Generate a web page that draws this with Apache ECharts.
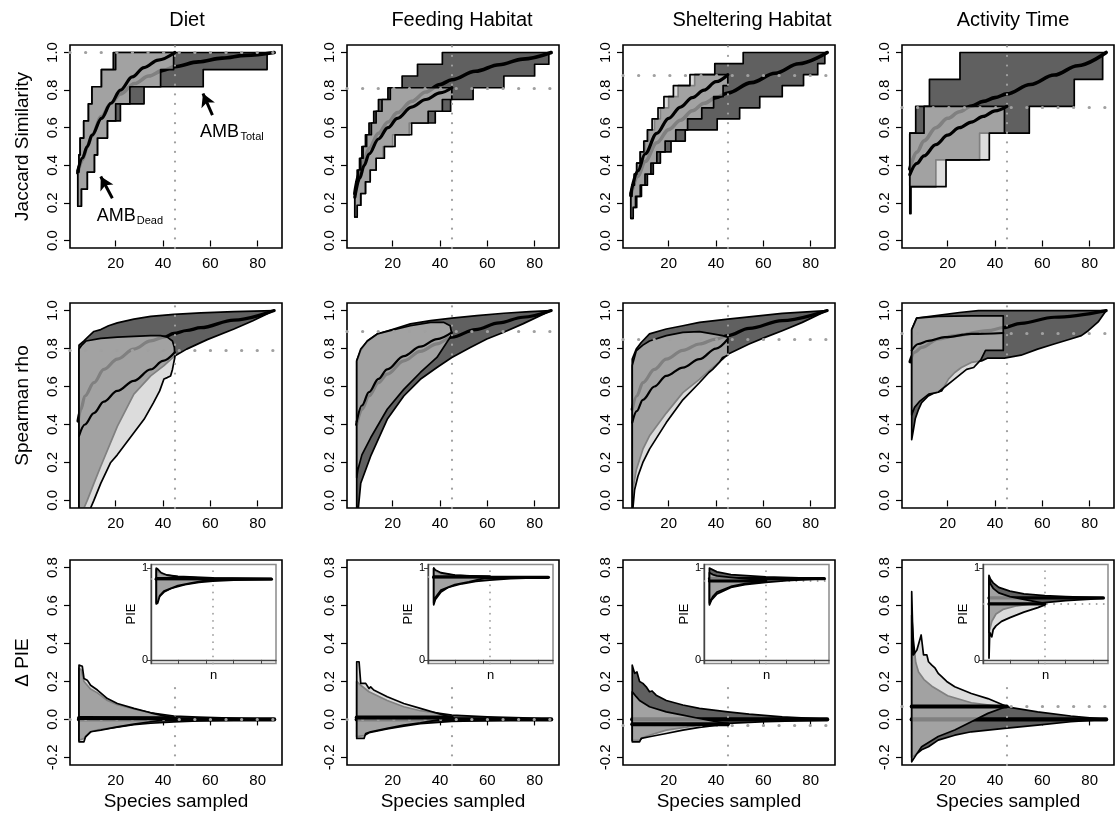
<!DOCTYPE html>
<html><head><meta charset="utf-8">
<script src="https://cdn.jsdelivr.net/npm/echarts@6/dist/echarts.min.js"></script>
<style>html,body{margin:0;padding:0;background:#fff}#c{width:1117px;height:819px}</style>
</head><body><div id="c"></div>
<script>
// ---------------- DATA ----------------
const colTitles = ['Diet', 'Feeding Habitat', 'Sheltering Habitat', 'Activity Time'];
const rowTitles = ['Jaccard Similarity', 'Spearman rho', '\u0394 PIE'];
const xTicks = [20, 40, 60, 80];
const yTicksTop = [0, 0.2, 0.4, 0.6, 0.8, 1.0];
const yTicksPie = [-0.2, 0, 0.2, 0.4, 0.6, 0.8];
const insetTicksY = [0, 1];
const deadSampleSize = 45;

// Row 1: Jaccard similarity (step bands)
const dietJacTotUp = [[4,0.364],[4.5,0.455],[5,0.545],[6.5,0.636],[8.5,0.727],[10,0.818],[14,0.909],[19,1],[87,1]];
const dietJacTotLo = [[4,0.182],[5.5,0.273],[8,0.364],[11,0.455],[12.3,0.545],[16.5,0.636],[22,0.727],[32,0.818],[57,0.909],[84,1],[87,1]];
const dietJacDeadUp = [[4,0.364],[4.5,0.455],[5,0.545],[6.5,0.636],[8.5,0.727],[10,0.818],[14,0.909],[20,1],[45,1]];
const dietJacDeadLo = [[4,0.182],[5.5,0.273],[8,0.364],[11,0.455],[12.3,0.545],[16.5,0.636],[20,0.727],[26,0.818],[39,0.909],[44.5,1],[45,1]];
const dietJacTotMean = [[4,0.36],[6,0.43],[8,0.5],[10,0.56],[14,0.66],[18,0.73],[22,0.78],[28,0.835],[34,0.875],[40,0.905],[45,0.925],[55,0.95],[65,0.97],[75,0.985],[87,1]];
const dietJacDeadMean = [[4,0.37],[6,0.44],[8,0.5],[10,0.56],[14,0.65],[18,0.73],[22,0.8],[27,0.87],[32,0.92],[38,0.96],[45,1]];

const feedJacTotUp = [[4,0.25],[4.5,0.3125],[5,0.375],[6,0.4375],[7,0.5],[8.5,0.5625],[10,0.625],[12,0.6875],[14,0.75],[18,0.8125],[24,0.875],[30.5,0.9375],[41,1],[87,1]];
const feedJacTotLo = [[4,0.125],[5,0.1875],[6.5,0.25],[8.5,0.3125],[10.5,0.375],[13,0.4375],[16,0.5],[20,0.5625],[27,0.625],[38,0.6875],[44.5,0.75],[54,0.8125],[67,0.875],[80,0.9375],[86,1],[87,1]];
const feedJacDeadUp = [[4,0.25],[4.5,0.3125],[5.5,0.375],[6.5,0.4375],[7.5,0.5],[9,0.5625],[11,0.625],[13,0.6875],[15.5,0.75],[19,0.8125],[45,0.8125]];
const feedJacDeadLo = [[4,0.125],[5,0.1875],[6.5,0.25],[8.5,0.3125],[10.5,0.375],[13,0.4375],[16.5,0.5],[21,0.5625],[28,0.625],[35,0.6875],[41,0.75],[45,0.8125]];
const feedJacTotMean = [[4,0.25],[6,0.36],[8,0.43],[10,0.49],[14,0.57],[18,0.63],[22,0.68],[28,0.74],[34,0.79],[40,0.83],[45,0.855],[55,0.9],[65,0.935],[75,0.965],[87,1]];
const feedJacDeadMean = [[4,0.23],[6,0.33],[8,0.4],[10,0.46],[14,0.54],[18,0.6],[22,0.65],[28,0.71],[34,0.75],[40,0.785],[45,0.8125]];

const shelJacTotUp = [[4,0.235],[4.5,0.294],[5.5,0.353],[6.5,0.412],[8,0.471],[10,0.529],[11.5,0.588],[14,0.647],[16.5,0.706],[20,0.765],[24,0.824],[31,0.882],[39.5,0.941],[51.5,1],[87,1]];
const shelJacTotLo = [[4,0.118],[5,0.176],[6.5,0.235],[8.5,0.294],[11,0.353],[13.5,0.412],[16.5,0.471],[21,0.529],[27,0.588],[40.5,0.647],[50,0.706],[58.5,0.765],[68,0.824],[77,0.882],[83,0.941],[86,1],[87,1]];
const shelJacDeadUp = [[4,0.235],[4.5,0.294],[5.5,0.353],[6.5,0.412],[8,0.471],[9.5,0.529],[11,0.588],[13,0.647],[15.5,0.706],[18,0.765],[22,0.824],[29,0.882],[45,0.882]];
const shelJacDeadLo = [[4,0.118],[5,0.176],[6,0.235],[8,0.294],[10,0.353],[12.5,0.412],[15,0.471],[18.5,0.529],[23,0.588],[28,0.647],[34,0.706],[39,0.765],[43,0.824],[45,0.882]];
const shelJacTotMean = [[4,0.24],[7,0.34],[10,0.42],[15,0.52],[20,0.59],[25,0.64],[30,0.69],[35,0.73],[40,0.76],[45,0.785],[55,0.84],[65,0.89],[75,0.94],[87,1]];
const shelJacDeadMean = [[4,0.25],[7,0.37],[10,0.46],[15,0.57],[20,0.65],[25,0.71],[30,0.76],[35,0.8],[40,0.845],[45,0.882]];

const actJacTotUp = [[4,0.571],[6.5,0.714],[12.3,0.857],[25.2,1],[87,1]];
const actJacTotLo = [[4,0.143],[4.5,0.286],[15,0.429],[33.5,0.571],[54.5,0.714],[73.5,0.857],[85.5,1],[87,1]];
const actJacDeadUp = [[4,0.571],[10,0.714],[45,0.714]];
const actJacDeadLo = [[4,0.286],[19.3,0.429],[37.6,0.571],[44,0.714],[45,0.714]];
const actJacTotMean = [[4,0.38],[7,0.47],[10,0.53],[15,0.6],[20,0.65],[25,0.685],[30,0.715],[35,0.74],[40,0.76],[45,0.78],[55,0.83],[65,0.88],[75,0.93],[87,1]];
const actJacDeadMean = [[4,0.35],[7,0.41],[10,0.45],[15,0.51],[20,0.56],[25,0.6],[30,0.63],[35,0.66],[40,0.69],[45,0.714]];

// Row 2: Spearman rho
const dietSpTotUp = [[4.5,0.818],[6.6,0.84],[9,0.87],[10.8,0.89],[13.7,0.9],[17,0.92],[20.7,0.935],[27.7,0.955],[34.8,0.97],[44.6,0.98],[56,0.988],[70,0.995],[87,1]];
const dietSpTotLo = [[4.5,-0.04],[6.6,-0.04],[8,0.0],[10.8,0.09],[13.7,0.18],[20.7,0.39],[27.7,0.56],[34.8,0.656],[40.4,0.71],[44.6,0.758],[50,0.797],[58.7,0.847],[70,0.903],[78,0.947],[87,1]];
const dietSpDeadUp = [[4.5,0.797],[5.5,0.815],[7.5,0.84],[13.7,0.854],[20.7,0.86],[27.7,0.864],[34.8,0.868],[39,0.868],[41.8,0.86],[44,0.84],[44.8,0.806],[45,0.76]];
const dietSpDeadLo = [[4.5,-0.04],[9.4,-0.04],[10.8,0.0],[13.7,0.09],[17.9,0.2],[20.7,0.24],[27.7,0.356],[32,0.427],[36,0.515],[38.6,0.577],[40.4,0.64],[41.8,0.647],[43.2,0.656],[44,0.69],[45,0.753]];
const dietSpTotMean = [[4.1,0.418],[5.3,0.48],[7,0.55],[10.8,0.62],[15,0.69],[20.7,0.744],[27.7,0.797],[34.8,0.84],[40.4,0.86],[44.6,0.88],[50,0.895],[56,0.91],[70,0.95],[87,1]];
const dietSpDeadMean = [[4.5,0.34],[7,0.4],[10.8,0.46],[15,0.52],[20.7,0.577],[27.7,0.63],[34.8,0.69],[40,0.735],[45,0.78]];

const feedSpTotUp = [[4.8,0.735],[6.5,0.79],[9.3,0.84],[13.5,0.877],[20.5,0.903],[27.5,0.93],[36,0.947],[45,0.96],[55.6,0.973],[67,0.986],[78,0.995],[87,1]];
const feedSpTotLo = [[4.8,-0.04],[5.5,-0.04],[6.5,0.09],[10.7,0.233],[17.7,0.427],[24.7,0.55],[31.7,0.638],[38.7,0.7],[45,0.753],[52.8,0.806],[59.8,0.85],[66.7,0.885],[75,0.93],[87,1]];
const feedSpDeadUp = [[4.8,0.735],[6.5,0.797],[9.3,0.84],[13.5,0.877],[20.5,0.9],[27.5,0.92],[36,0.938],[41.5,0.938],[44.3,0.92],[45,0.877]];
const feedSpDeadLo = [[4.8,0.12],[5.3,0.162],[7,0.24],[10.7,0.33],[17.7,0.48],[24.7,0.585],[31.7,0.674],[38.7,0.753],[44.3,0.86],[45,0.877]];
const feedSpTotMean = [[4.8,0.4],[7,0.48],[10,0.55],[14,0.62],[17.7,0.665],[24.7,0.735],[31.7,0.785],[38.7,0.825],[45,0.86],[55,0.9],[65,0.935],[75,0.965],[87,1]];
const feedSpDeadMean = [[4.8,0.415],[7,0.5],[10,0.57],[14,0.64],[17.7,0.69],[24.7,0.76],[31.7,0.81],[38.7,0.85],[45,0.885]];

const shelSpTotUp = [[4.6,0.744],[6.3,0.797],[8.4,0.832],[11.9,0.877],[19,0.903],[26,0.92],[33,0.938],[45,0.955],[56,0.97],[68,0.985],[87,1]];
const shelSpTotLo = [[4.6,-0.04],[4.9,0.06],[6.3,0.16],[9.1,0.27],[11.9,0.34],[19,0.46],[26,0.568],[33,0.638],[38.6,0.7],[42.8,0.744],[45,0.77],[54,0.824],[61,0.86],[68,0.894],[76.5,0.938],[87,1]];
const shelSpDeadUp = [[4.6,0.71],[6.3,0.788],[9.1,0.818],[11.9,0.84],[19,0.868],[26,0.885],[33,0.889],[38.6,0.877],[42.8,0.868],[45,0.86]];
const shelSpDeadLo = [[4.6,-0.04],[4.9,-0.04],[5.6,0.056],[7,0.127],[9.1,0.2],[11.9,0.27],[19,0.41],[26,0.53],[33,0.62],[37,0.674],[38.6,0.69],[41.4,0.727],[42.8,0.753],[45,0.765]];
const shelSpTotMean = [[4.6,0.48],[6.5,0.55],[9.1,0.62],[14,0.69],[19,0.744],[26,0.79],[33,0.824],[40,0.85],[45,0.868],[54,0.906],[68,0.947],[87,1]];
const shelSpDeadMean = [[4.6,0.41],[6.5,0.47],[9.1,0.53],[14,0.6],[19,0.656],[26,0.7],[33,0.744],[40,0.8],[45,0.85]];

const actSpTotUp = [[4.8,0.9],[6.9,0.96],[16,0.975],[25,0.99],[33,1],[87,1]];
const actSpTotLo = [[4.8,0.32],[5.5,0.37],[6.3,0.43],[7.7,0.48],[9,0.515],[11.8,0.55],[14.7,0.568],[17.5,0.577],[19,0.61],[20.4,0.64],[23,0.674],[25.8,0.7],[30,0.727],[34.3,0.735],[37,0.75],[44,0.75],[51,0.765],[58,0.797],[65,0.824],[72,0.85],[76.5,0.868],[79.4,0.894],[83.6,0.94],[87,1]];
const actSpDeadUp = [[4.8,0.9],[6.9,0.96],[16,0.97],[30,0.972],[43.5,0.972]];
const actSpDeadLo = [[4.8,0.45],[6,0.49],[8,0.52],[10,0.54],[12,0.56],[16,0.57],[19,0.6],[22,0.63],[25,0.66],[28,0.69],[31,0.7],[34,0.74],[36,0.79],[43.5,0.79]];
const actSpTotMean = [[4.1,0.73],[6,0.78],[9,0.806],[16,0.85],[23,0.868],[37,0.894],[43.5,0.91],[51,0.933],[65,0.965],[87,1]];
const actSpDeadMean = [[4.8,0.79],[7.6,0.824],[11.8,0.84],[18.8,0.86],[30,0.877],[43.5,0.882]];

// Row 3: Delta PIE
const dietPieTotUp = [[4.5,0.27],[5.5,0.26],[6.6,0.2],[8,0.18],[9.4,0.16],[12.3,0.14],[16.5,0.1],[20.7,0.078],[27.7,0.055],[34.8,0.035],[44.6,0.018],[55,0.012],[65,0.008],[75,0.004],[87,0]];
const dietPieTotLo = [[4.5,-0.11],[6.6,-0.1],[9.4,-0.065],[12.3,-0.055],[20.7,-0.04],[27.7,-0.028],[34.8,-0.02],[44.6,-0.013],[55,-0.008],[65,-0.005],[75,-0.003],[87,0]];
const dietPieDeadUp = [[4.5,0.286],[5.9,0.28],[6.6,0.216],[8,0.207],[9.4,0.18],[12.3,0.155],[16.5,0.11],[20.7,0.084],[27.7,0.058],[34.8,0.035],[45,0.006]];
const dietPieDeadLo = [[4.5,-0.118],[6.6,-0.118],[7.3,-0.09],[9.4,-0.065],[13.7,-0.056],[20.7,-0.039],[27.7,-0.025],[34.8,-0.012],[45,0.006]];
const dietPieTotMean = [[4.5,0],[87,0]];
const dietPieDeadMean = [[4.5,0.007],[45,0.006]];

const feedPieTotUp = [[4.8,0.2],[6.5,0.18],[10,0.146],[17.7,0.1],[24.7,0.067],[31.7,0.046],[45,0.023],[60,0.014],[75,0.008],[87,0]];
const feedPieTotLo = [[4.8,-0.09],[8,-0.085],[10,-0.07],[17.7,-0.05],[24.7,-0.035],[31.7,-0.022],[45,-0.01],[60,-0.006],[75,-0.003],[87,0]];
const feedPieDeadUp = [[4.8,0.304],[5.8,0.304],[6.5,0.19],[8.6,0.19],[10,0.163],[10.7,0.172],[12,0.155],[17.7,0.12],[24.7,0.084],[31.7,0.058],[45,0.01]];
const feedPieDeadLo = [[4.8,-0.1],[7.9,-0.1],[8.6,-0.074],[10.7,-0.065],[17.7,-0.047],[24.7,-0.03],[31.7,-0.018],[45,0.01]];
const feedPieTotMean = [[4.8,0],[87,0]];
const feedPieDeadMean = [[4.8,0.01],[45,0.01]];

const shelPieTotUp = [[4.6,0.286],[5.6,0.243],[6.6,0.25],[7.7,0.2],[9.1,0.19],[10.5,0.172],[11.9,0.146],[13,0.15],[14.7,0.128],[19,0.1],[26,0.076],[33,0.058],[45,0.04],[54,0.028],[68,0.014],[86,0.002],[87,0]];
const shelPieTotLo = [[4.6,-0.11],[7.7,-0.11],[9.1,-0.095],[11.9,-0.083],[19,-0.056],[33,-0.03],[45,-0.021],[61,-0.012],[86,-0.004],[87,0]];
const shelPieDeadUp = [[4.6,0.146],[6.3,0.12],[7.7,0.1],[11.9,0.067],[19,0.04],[26,0.023],[33,0.005],[45,-0.023]];
const shelPieDeadLo = [[4.6,-0.118],[7.7,-0.118],[8.4,-0.1],[11.9,-0.091],[19,-0.074],[26,-0.056],[33,-0.042],[45,-0.023]];
const shelPieTotMean = [[4.6,0],[87,0]];
const shelPieDeadMean = [[4.6,-0.025],[45,-0.025]];

const actPieTotUp = [[4.8,0.55],[5.5,0.42],[6.5,0.3],[7.7,0.25],[10,0.21],[13.3,0.175],[20,0.125],[30,0.088],[40,0.072],[45,0.066],[58,0.04],[72,0.018],[87,0]];
const actPieTotLo = [[4.8,-0.2],[7,-0.18],[9,-0.16],[11.9,-0.144],[16,-0.109],[23,-0.083],[30,-0.065],[44,-0.047],[58,-0.03],[72,-0.012],[87,0]];
const actPieDeadUp = [[4.8,0.673],[5.5,0.34],[7,0.366],[8.8,0.445],[9.8,0.34],[11.2,0.34],[11.9,0.304],[13.3,0.286],[14.7,0.27],[16,0.243],[17.5,0.225],[19.6,0.2],[23,0.172],[30,0.137],[37,0.11],[43.5,0.076],[45,0.067]];
const actPieDeadLo = [[4.8,-0.223],[7,-0.18],[9,-0.144],[16,-0.09],[23,-0.056],[30,-0.012],[37,0.032],[44,0.064],[45,0.067]];
const actPieTotMean = [[4.8,0],[87,0]];
const actPieDeadMean = [[4.8,0.068],[45,0.068]];

// Insets: PIE
const dietInTotUp = [[4.5,0.99],[6,0.96],[10,0.93],[20,0.91],[45,0.895],[87,0.885]];
const dietInTotLo = [[4.5,0.62],[6,0.68],[10,0.74],[15,0.78],[25,0.82],[35,0.845],[45,0.86],[60,0.87],[87,0.88]];
const dietInDeadUp = [[4.5,1.0],[5.5,0.99],[8,0.95],[12,0.925],[20,0.905],[45,0.885]];
const dietInDeadLo = [[4.5,0.61],[5.5,0.62],[7,0.7],[10,0.75],[20,0.81],[30,0.84],[45,0.88]];
const dietInTotMean = [[4.5,0.88],[87,0.88]];
const dietInDeadMean = [[4.5,0.885],[45,0.885]];

const feedInTotUp = [[4.8,1.0],[6,0.97],[10,0.94],[20,0.92],[45,0.905],[87,0.9]];
const feedInTotLo = [[4.8,0.6],[6,0.66],[10,0.74],[15,0.79],[25,0.83],[35,0.855],[45,0.87],[60,0.885],[87,0.9]];
const feedInDeadUp = [[4.8,1.0],[6,0.98],[10,0.95],[20,0.925],[45,0.905]];
const feedInDeadLo = [[4.8,0.62],[6,0.68],[10,0.76],[20,0.82],[30,0.85],[45,0.905]];
const feedInTotMean = [[4.8,0.9],[87,0.9]];
const feedInDeadMean = [[4.8,0.905],[45,0.905]];

const shelInTotUp = [[4.6,1.0],[6,0.99],[10,0.96],[20,0.93],[45,0.905],[87,0.885]];
const shelInTotLo = [[4.6,0.6],[6,0.65],[10,0.72],[20,0.79],[30,0.82],[45,0.845],[60,0.865],[87,0.885]];
const shelInDeadUp = [[4.6,0.95],[7,0.93],[10,0.915],[20,0.9],[45,0.865]];
const shelInDeadLo = [[4.6,0.62],[7,0.69],[10,0.74],[20,0.8],[30,0.83],[45,0.855]];
const shelInTotMean = [[4.6,0.885],[87,0.885]];
const shelInDeadMean = [[4.6,0.86],[45,0.86]];

const actInTotUp = [[5,0.92],[6,0.88],[8,0.84],[12,0.79],[20,0.75],[30,0.72],[45,0.7],[60,0.69],[87,0.675]];
const actInTotLo = [[5,0.3],[7,0.42],[10,0.5],[15,0.55],[25,0.59],[35,0.61],[45,0.625],[60,0.645],[75,0.66],[87,0.672]];
const actInDeadUp = [[5,0.9],[6,0.83],[8,0.78],[12,0.73],[20,0.69],[30,0.66],[40,0.63],[45,0.615]];
const actInDeadLo = [[5,0.02],[5.5,0.3],[7,0.25],[8,0.33],[10,0.37],[14,0.42],[20,0.46],[30,0.52],[40,0.57],[45,0.6]];
const actInTotMean = [[5,0.675],[87,0.675]];
const actInDeadMean = [[5,0.61],[45,0.61]];

// Observed (dead assemblage) reference values, dotted horizontal lines
const jacRef = [1.0, 0.8125, 0.882, 0.714];
const spRef = [0.794, 0.894, 0.855, 0.88];
const pieRef = [0, 0, -0.025, 0.07];
const insetRef = [0.885, 0.905, 0.86, 0.61];
const pieVertTop = 0.2;

// ---------------- LAYOUT / STYLE ----------------
const FONT = '"Liberation Sans", Arial, Helvetica, sans-serif';
const colLeft = [70, 347, 623, 902];
const colW = 212;
const rowTop = [45, 303, 560];
const rowH = [203, 205, 205];
const titleX = [187, 462, 752, 1013];
const DARK = '#606060';
const DEADFILL = 'rgba(200,200,200,0.64)';
const XMIN = 0.7, XMAX = 90.3;

const panels = [
  [
    {tu:dietJacTotUp, tl:dietJacTotLo, du:dietJacDeadUp, dl:dietJacDeadLo, tm:dietJacTotMean, dm:dietJacDeadMean},
    {tu:feedJacTotUp, tl:feedJacTotLo, du:feedJacDeadUp, dl:feedJacDeadLo, tm:feedJacTotMean, dm:feedJacDeadMean},
    {tu:shelJacTotUp, tl:shelJacTotLo, du:shelJacDeadUp, dl:shelJacDeadLo, tm:shelJacTotMean, dm:shelJacDeadMean},
    {tu:actJacTotUp, tl:actJacTotLo, du:actJacDeadUp, dl:actJacDeadLo, tm:actJacTotMean, dm:actJacDeadMean}
  ],
  [
    {tu:dietSpTotUp, tl:dietSpTotLo, du:dietSpDeadUp, dl:dietSpDeadLo, tm:dietSpTotMean, dm:dietSpDeadMean},
    {tu:feedSpTotUp, tl:feedSpTotLo, du:feedSpDeadUp, dl:feedSpDeadLo, tm:feedSpTotMean, dm:feedSpDeadMean},
    {tu:shelSpTotUp, tl:shelSpTotLo, du:shelSpDeadUp, dl:shelSpDeadLo, tm:shelSpTotMean, dm:shelSpDeadMean},
    {tu:actSpTotUp, tl:actSpTotLo, du:actSpDeadUp, dl:actSpDeadLo, tm:actSpTotMean, dm:actSpDeadMean}
  ],
  [
    {tu:dietPieTotUp, tl:dietPieTotLo, du:dietPieDeadUp, dl:dietPieDeadLo, tm:dietPieTotMean, dm:dietPieDeadMean},
    {tu:feedPieTotUp, tl:feedPieTotLo, du:feedPieDeadUp, dl:feedPieDeadLo, tm:feedPieTotMean, dm:feedPieDeadMean},
    {tu:shelPieTotUp, tl:shelPieTotLo, du:shelPieDeadUp, dl:shelPieDeadLo, tm:shelPieTotMean, dm:shelPieDeadMean},
    {tu:actPieTotUp, tl:actPieTotLo, du:actPieDeadUp, dl:actPieDeadLo, tm:actPieTotMean, dm:actPieDeadMean}
  ]
];
const insets = [
  {tu:dietInTotUp, tl:dietInTotLo, du:dietInDeadUp, dl:dietInDeadLo, tm:dietInTotMean, dm:dietInDeadMean},
  {tu:feedInTotUp, tl:feedInTotLo, du:feedInDeadUp, dl:feedInDeadLo, tm:feedInTotMean, dm:feedInDeadMean},
  {tu:shelInTotUp, tl:shelInTotLo, du:shelInDeadUp, dl:shelInDeadLo, tm:shelInTotMean, dm:shelInDeadMean},
  {tu:actInTotUp, tl:actInTotLo, du:actInDeadUp, dl:actInDeadLo, tm:actInTotMean, dm:actInDeadMean}
];
const refs = [jacRef, spRef, pieRef];

function stepify(a) {
  const o = [a[0]];
  for (let i = 1; i < a.length; i++) { o.push([a[i][0], a[i - 1][1]]); o.push(a[i]); }
  return o;
}
function band(gi, up, lo, step, fill, z, lw) {
  return {
    type: 'custom', xAxisIndex: gi, yAxisIndex: gi, z: z, silent: true, clip: true,
    data: [[up[0][0], up[0][1]]],
    renderItem: function (params, api) {
      const U = step ? stepify(up) : up;
      const L = step ? stepify(lo) : lo;
      const pts = U.concat(L.slice().reverse()).map(function (p) { return api.coord(p); });
      return { type: 'polygon', shape: { points: pts },
        style: { fill: fill, stroke: '#000', lineWidth: lw, lineJoin: 'round' } };
    }
  };
}
function meanLine(gi, data, color, width, z) {
  return { type: 'line', xAxisIndex: gi, yAxisIndex: gi, data: data, z: z, silent: true,
    showSymbol: false, symbol: 'none', smooth: 0.35, smoothMonotone: 'x',
    lineStyle: { color: color, width: width, cap: 'round', join: 'round' } };
}
function guides(gi, items, z) {
  return { type: 'line', xAxisIndex: gi, yAxisIndex: gi, data: [], z: z, silent: true,
    markLine: { silent: true, symbol: 'none', animation: false, label: { show: false },
      emphasis: { disabled: true }, data: items } };
}
const dotH = { color: '#a0a0a0', width: 3.2, type: [0.1, 15.5], cap: 'round' };
const dotV = { color: '#a0a0a0', width: 2.2, type: [0.1, 9.5], cap: 'round' };
const dotIn = { color: '#a0a0a0', width: 1.8, type: [0.1, 7], cap: 'round' };

const grids = [], xAxes = [], yAxes = [], series = [];
for (let r = 0; r < 3; r++) {
  for (let c = 0; c < 4; c++) {
    const gi = r * 4 + c;
    grids.push({ left: colLeft[c], top: rowTop[r], width: colW, height: rowH[r], show: true,
      borderColor: '#000', borderWidth: 1.6, backgroundColor: 'transparent' });
    const xa = { gridIndex: gi, type: 'value', min: XMIN, max: XMAX,
      axisLine: { show: false }, splitLine: { show: false },
      axisTick: { show: true, customValues: xTicks, length: 6, lineStyle: { color: '#000', width: 1.2 } },
      axisLabel: { customValues: xTicks, color: '#000', fontSize: 15, fontFamily: FONT, margin: 8 } };
    if (r === 2) {
      xa.name = 'Species sampled'; xa.nameLocation = 'middle'; xa.nameGap = 27;
      xa.nameTextStyle = { fontSize: 19, fontFamily: FONT, color: '#000' };
    }
    xAxes.push(xa);
    const yt = r === 2 ? yTicksPie : yTicksTop;
    const ya = { gridIndex: gi, type: 'value', min: r === 2 ? -0.24 : -0.04, max: r === 2 ? 0.84 : 1.04,
      axisLine: { show: false }, splitLine: { show: false },
      axisTick: { show: true, customValues: yt, length: 6, lineStyle: { color: '#000', width: 1.2 } },
      axisLabel: { customValues: yt, rotate: 90, color: '#000', fontSize: 15, fontFamily: FONT, margin: 10,
        formatter: function (v) { return (+v).toFixed(1); } } };
    if (c === 0) {
      ya.name = rowTitles[r]; ya.nameLocation = 'middle'; ya.nameGap = 38; ya.nameRotate = 90;
      ya.nameTextStyle = { fontSize: 19, fontFamily: FONT, color: '#000' };
    }
    yAxes.push(ya);

    const p = panels[r][c];
    const step = r === 0;
    const ymin = r === 2 ? -0.24 : -0.04;
    const vItem = r === 2
      ? [{ coord: [deadSampleSize, ymin], lineStyle: dotV }, { coord: [deadSampleSize, pieVertTop] }]
      : { xAxis: deadSampleSize, lineStyle: dotV };
    series.push(guides(gi, [{ yAxis: refs[r][c], lineStyle: dotH }, vItem], r === 1 ? 6 : 1));
    const mw = r === 0 ? [3.6, 3.2] : (r === 1 ? [3.2, 2.2] : [4.2, 4]);
    series.push(band(gi, p.tu, p.tl, step, DARK, 2, 1.7));
    series.push(meanLine(gi, p.tm, '#000', mw[0], 3));
    series.push(band(gi, p.du, p.dl, step, DEADFILL, 4, 1.7));
    series.push(meanLine(gi, p.dm, '#000', mw[1], 5));
  }
}
// insets
for (let c = 0; c < 4; c++) {
  const gi = 12 + c;
  grids.push({ left: colLeft[c] + 81, top: 564.5, width: 125, height: 99, show: true,
    borderColor: '#8a8a8a', borderWidth: 1.5, backgroundColor: '#fff' });
  xAxes.push({ gridIndex: gi, type: 'value', min: XMIN, max: XMAX,
    axisLine: { show: true, lineStyle: { color: '#444', width: 1.4 } }, splitLine: { show: false },
    axisTick: { show: true, customValues: xTicks, length: 4, lineStyle: { color: '#444', width: 1 } },
    axisLabel: { show: false },
    name: 'n', nameLocation: 'middle', nameGap: 5, nameTextStyle: { fontSize: 13, fontFamily: FONT, color: '#000' } });
  yAxes.push({ gridIndex: gi, type: 'value', min: -0.04, max: 1.04,
    axisLine: { show: true, lineStyle: { color: '#444', width: 1.4 } }, splitLine: { show: false },
    axisTick: { show: true, customValues: insetTicksY, length: 4, lineStyle: { color: '#444', width: 1 } },
    axisLabel: { customValues: insetTicksY, color: '#000', fontSize: 11, fontFamily: FONT, margin: 3 },
    name: 'PIE', nameLocation: 'middle', nameGap: 13, nameRotate: 90,
    nameTextStyle: { fontSize: 13, fontFamily: FONT, color: '#000' } });
  const p = insets[c];
  series.push(guides(gi, [{ yAxis: insetRef[c], lineStyle: dotIn }, { xAxis: deadSampleSize, lineStyle: dotIn }], 11));
  series.push(band(gi, p.tu, p.tl, false, DARK, 12, 1.8));
  series.push(meanLine(gi, p.tm, '#000', 3.2, 13));
  series.push(band(gi, p.du, p.dl, false, DEADFILL, 14, 1.8));
  series.push(meanLine(gi, p.dm, '#000', 3.2, 15));
}
// annotation arrows (Diet / Jaccard panel)
const arrowTotal = [[60.9, 0.667], [56.9, 0.782]];
const arrowDead = [[18.6, 0.225], [13.7, 0.34]];
series.push({ type: 'line', xAxisIndex: 0, yAxisIndex: 0, data: [], z: 8, silent: true,
  markLine: { silent: true, symbol: ['none', 'arrow'], symbolSize: [11, 13], animation: false,
    label: { show: false }, emphasis: { disabled: true },
    lineStyle: { color: '#000', width: 3, type: 'solid' },
    data: [[{ coord: arrowTotal[0] }, { coord: arrowTotal[1] }], [{ coord: arrowDead[0] }, { coord: arrowDead[1] }]] } });

function txt(x, y, s, size, align) {
  return { type: 'text', x: x, y: y, silent: true,
    style: { text: s, fontSize: size, fontFamily: FONT, fill: '#000',
      align: align || 'left', verticalAlign: 'middle', textAlign: align || 'left', textVerticalAlign: 'middle' } };
}
const graphics = colTitles.map(function (t, i) { return txt(titleX[i], 20, t, 20, 'center'); });
graphics.push(txt(200, 132, 'AMB', 18, 'left'));
graphics.push(txt(240.5, 137, 'Total', 11, 'left'));
graphics.push(txt(96.7, 216, 'AMB', 18, 'left'));
graphics.push(txt(136.7, 221, 'Dead', 11, 'left'));

const chart = echarts.init(document.getElementById('c'), null, { renderer: 'canvas' });
chart.setOption({
  animation: false,
  backgroundColor: '#fff',
  grid: grids, xAxis: xAxes, yAxis: yAxes, series: series,
  graphic: graphics
});
</script></body></html>
